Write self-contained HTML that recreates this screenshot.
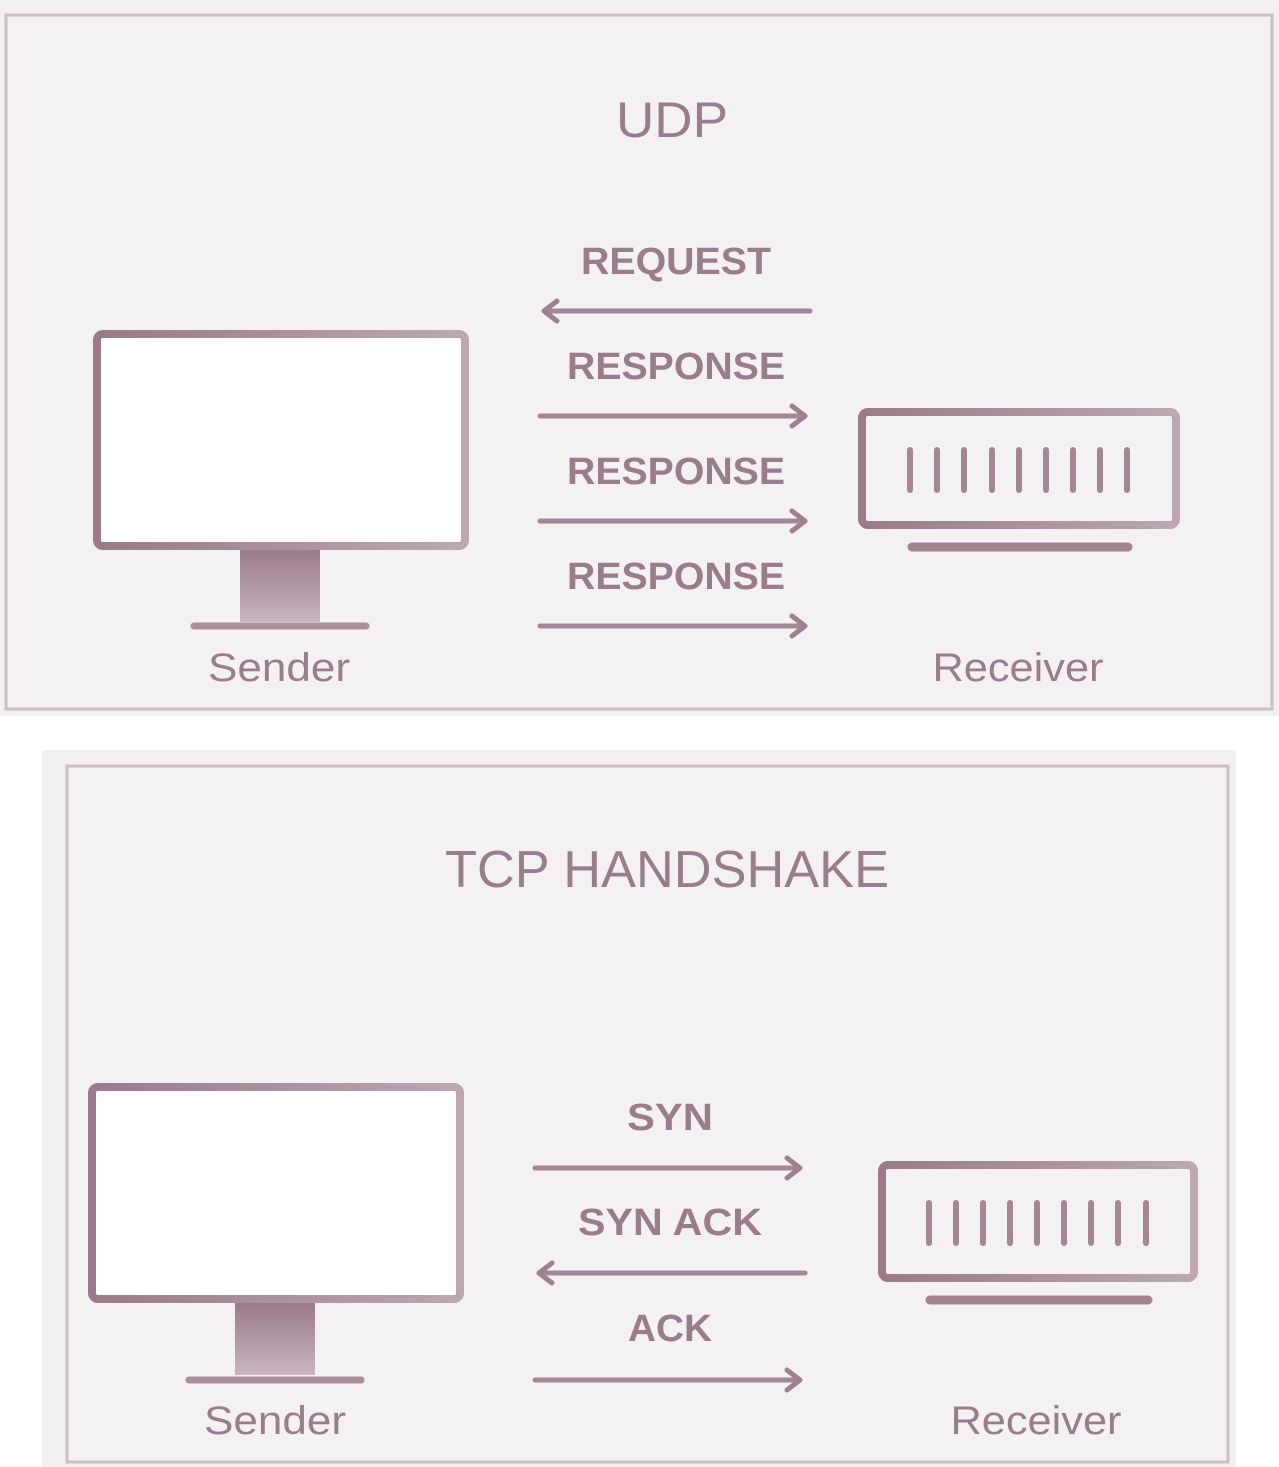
<!DOCTYPE html>
<html><head><meta charset="utf-8"><style>
html,body{margin:0;padding:0;background:#fff;}
svg{display:block;}
text{font-family:"Liberation Sans","DejaVu Sans",sans-serif;fill:#9a7d8d;}
</style></head><body>
<svg width="1279" height="1467" viewBox="0 0 1279 1467" xmlns="http://www.w3.org/2000/svg">
<defs>
<linearGradient id="st" x1="0" y1="0" x2="0" y2="1"><stop offset="0" stop-color="#9a7a8b"/><stop offset="1" stop-color="#c9b6c0"/></linearGradient>
<linearGradient id="ic" x1="0" y1="0" x2="1" y2="0"><stop offset="0" stop-color="#9a7a8b"/><stop offset="1" stop-color="#bca7b3"/></linearGradient>
<g id="arR"><line x1="540" y1="0" x2="803" y2="0" stroke="#a38797" stroke-width="5" stroke-linecap="round"/><polyline points="792,-10 805,0 792,10" fill="none" stroke="#9e8191" stroke-width="5" stroke-linecap="round" stroke-linejoin="round"/></g>
<g id="arL"><line x1="546" y1="0" x2="810" y2="0" stroke="#a38797" stroke-width="5" stroke-linecap="round"/><polyline points="557,-10 544,0 557,10" fill="none" stroke="#9e8191" stroke-width="5" stroke-linecap="round" stroke-linejoin="round"/></g>
</defs>
<rect x="0" y="0" width="1279" height="716" fill="#f3f0f1"/>
<rect x="6" y="15" width="1266" height="694" fill="#f3f1f2" stroke="#cdbdc6" stroke-width="3"/>
<text x="672" y="137" font-size="50" text-anchor="middle" fill="#76566a" textLength="112" lengthAdjust="spacingAndGlyphs">UDP</text>
<rect x="97" y="334" width="368" height="212" rx="6" fill="#fff" stroke="url(#ic)" stroke-width="8"/>
<rect x="240" y="550" width="80" height="72" fill="url(#st)"/>
<line x1="194" y1="626" x2="366" y2="626" stroke="#a98e9d" stroke-width="7" stroke-linecap="round"/>
<text x="279" y="681" font-size="40" text-anchor="middle" textLength="142" lengthAdjust="spacingAndGlyphs">Sender</text>
<rect x="862" y="412" width="314" height="113" rx="6" fill="none" stroke="url(#ic)" stroke-width="8"/>
<g stroke="#a38797" stroke-width="6" stroke-linecap="round">
<line x1="910" y1="450" x2="910" y2="490"/><line x1="937" y1="450" x2="937" y2="490"/><line x1="964" y1="450" x2="964" y2="490"/><line x1="992" y1="450" x2="992" y2="490"/><line x1="1019" y1="450" x2="1019" y2="490"/><line x1="1046" y1="450" x2="1046" y2="490"/><line x1="1073" y1="450" x2="1073" y2="490"/><line x1="1100" y1="450" x2="1100" y2="490"/><line x1="1127" y1="450" x2="1127" y2="490"/>
</g>
<line x1="912" y1="547" x2="1128" y2="547" stroke="#a08393" stroke-width="9" stroke-linecap="round"/>
<text x="1018" y="681" font-size="40" text-anchor="middle" textLength="171" lengthAdjust="spacingAndGlyphs">Receiver</text>
<text x="676" y="274" font-size="38" font-weight="bold" text-anchor="middle" textLength="190" lengthAdjust="spacingAndGlyphs">REQUEST</text>
<use href="#arL" y="311"/>
<text x="676" y="379" font-size="38" font-weight="bold" text-anchor="middle" textLength="218" lengthAdjust="spacingAndGlyphs">RESPONSE</text>
<use href="#arR" y="416"/>
<text x="676" y="484" font-size="38" font-weight="bold" text-anchor="middle" textLength="218" lengthAdjust="spacingAndGlyphs">RESPONSE</text>
<use href="#arR" y="521"/>
<text x="676" y="589" font-size="38" font-weight="bold" text-anchor="middle" textLength="218" lengthAdjust="spacingAndGlyphs">RESPONSE</text>
<use href="#arR" y="626"/>

<rect x="42" y="750" width="1194" height="717" fill="#f3f0f1"/>
<rect x="67" y="766" width="1161" height="696" fill="#f3f1f2" stroke="#cdbdc6" stroke-width="3"/>
<text x="667" y="887" font-size="52" text-anchor="middle" fill="#76566a" textLength="444" lengthAdjust="spacingAndGlyphs">TCP HANDSHAKE</text>
<rect x="92" y="1087" width="368" height="212" rx="6" fill="#fff" stroke="url(#ic)" stroke-width="8"/>
<rect x="235" y="1303" width="80" height="72" fill="url(#st)"/>
<line x1="189" y1="1380" x2="361" y2="1380" stroke="#a98e9d" stroke-width="7" stroke-linecap="round"/>
<text x="275" y="1434" font-size="40" text-anchor="middle" textLength="142" lengthAdjust="spacingAndGlyphs">Sender</text>
<rect x="882" y="1165" width="312" height="113" rx="6" fill="none" stroke="url(#ic)" stroke-width="8"/>
<g stroke="#a38797" stroke-width="6" stroke-linecap="round">
<line x1="929" y1="1203" x2="929" y2="1243"/><line x1="956" y1="1203" x2="956" y2="1243"/><line x1="983" y1="1203" x2="983" y2="1243"/><line x1="1010" y1="1203" x2="1010" y2="1243"/><line x1="1037" y1="1203" x2="1037" y2="1243"/><line x1="1064" y1="1203" x2="1064" y2="1243"/><line x1="1091" y1="1203" x2="1091" y2="1243"/><line x1="1118" y1="1203" x2="1118" y2="1243"/><line x1="1146" y1="1203" x2="1146" y2="1243"/>
</g>
<line x1="930" y1="1300" x2="1148" y2="1300" stroke="#a08393" stroke-width="9" stroke-linecap="round"/>
<text x="1036" y="1434" font-size="40" text-anchor="middle" textLength="171" lengthAdjust="spacingAndGlyphs">Receiver</text>
<text x="670" y="1130" font-size="38" font-weight="bold" text-anchor="middle" textLength="86" lengthAdjust="spacingAndGlyphs">SYN</text>
<use href="#arR" x="-5" y="1168"/>
<text x="670" y="1235" font-size="38" font-weight="bold" text-anchor="middle" textLength="184" lengthAdjust="spacingAndGlyphs">SYN ACK</text>
<use href="#arL" x="-5" y="1273"/>
<text x="670" y="1341" font-size="38" font-weight="bold" text-anchor="middle" textLength="84" lengthAdjust="spacingAndGlyphs">ACK</text>
<use href="#arR" x="-5" y="1380"/>
</svg>
</body></html>
